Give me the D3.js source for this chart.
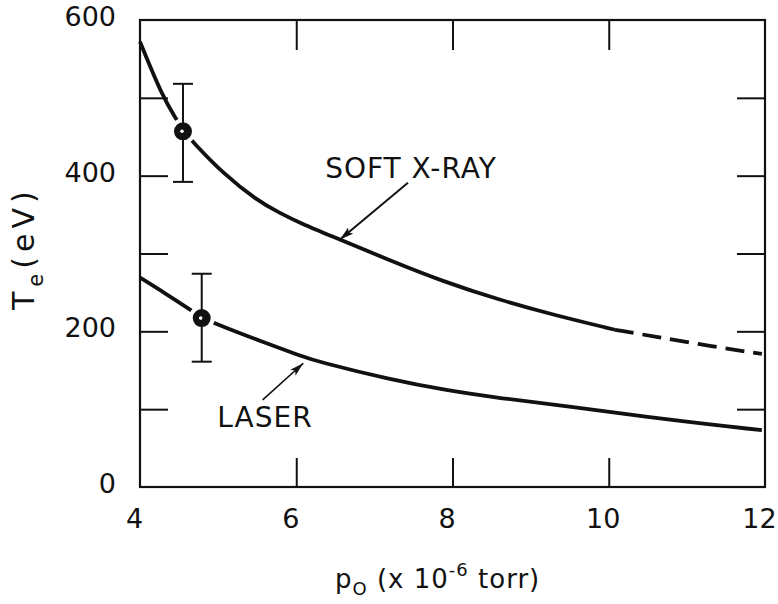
<!DOCTYPE html>
<html>
<head>
<meta charset="utf-8">
<script src="https://cdn.jsdelivr.net/npm/d3@7"></script>
<style>
  body { margin: 0; background: #fff; }
  text { font-family: "DejaVu Sans", sans-serif; fill: #111; }
</style>
</head>
<body>
<svg id="chart" width="778" height="604"></svg>
<script>
// p0 (x 1e-6 torr) vs Te (eV)
var softXraySolid = [
  [4.0, 572], [4.29, 501], [4.47, 472], [4.55, 458], [4.68, 443], [5.06, 403],
  [5.5, 368], [5.79, 352], [6.05, 339], [6.56, 318], [7.2, 291], [7.88, 264],
  [8.61, 240], [9.3, 221], [10.08, 202]
];
var softXrayDashed = [
  [10.08, 202], [10.6, 193], [11.3, 181], [11.96, 171]
];
var laser = [
  [4.0, 269], [4.32, 249], [4.64, 228], [4.79, 218], [4.96, 210], [5.5, 189],
  [6.07, 168], [6.28, 161], [7.2, 138], [7.93, 124], [8.61, 114], [9.47, 104],
  [10.78, 86], [11.96, 73]
];
// measured points: p, Te, low, high
var points = [
  { p: 4.55, te: 457, lo: 392, hi: 518 },
  { p: 4.79, te: 217, lo: 161, hi: 274 }
];
var xTicks = [4, 6, 8, 10, 12];
var yTicks = [0, 100, 200, 300, 400, 500, 600];
var yLabels = [0, 200, 400, 600];

var svg = d3.select("#chart");
var x = d3.scaleLinear().domain([4, 12]).range([140, 765]);
var y = d3.scaleLinear().domain([0, 600]).range([487, 20]);

var ink = "#111";

svg.append("defs").append("marker")
  .attr("id", "head")
  .attr("viewBox", "0 0 14 8")
  .attr("refX", 14).attr("refY", 4)
  .attr("markerWidth", 14).attr("markerHeight", 8)
  .attr("markerUnits", "userSpaceOnUse")
  .attr("orient", "auto")
  .append("path").attr("d", "M0,0 L14,4 L0,8 L3,4 Z").attr("fill", ink);

// axes: inward ticks, labels outside
var axLeft = svg.append("g").attr("transform", "translate(140,0)")
  .call(d3.axisLeft(y).tickValues(yTicks)
    .tickSizeInner(-28).tickSizeOuter(0).tickPadding(24)
    .tickFormat(function (d) { return yLabels.indexOf(d) >= 0 ? d : ""; }));
var axBottom = svg.append("g").attr("transform", "translate(0,487)")
  .call(d3.axisBottom(x).tickValues(xTicks)
    .tickSizeInner(-29).tickSizeOuter(0).tickPadding(22));
var axTop = svg.append("g").attr("transform", "translate(0,20)")
  .call(d3.axisTop(x).tickValues(xTicks.slice(1, -1))
    .tickSizeInner(-30).tickSizeOuter(0).tickFormat(""));
var axRight = svg.append("g").attr("transform", "translate(765,0)")
  .call(d3.axisRight(y).tickValues(yTicks.slice(1, -1))
    .tickSizeInner(-28).tickSizeOuter(0).tickFormat(""));

[axLeft, axBottom, axTop, axRight].forEach(function (g) {
  g.select(".domain").remove();
  g.selectAll("line").attr("stroke", ink).attr("stroke-width", 2);
  g.selectAll("text").attr("font-size", 27).attr("fill", ink)
    .style("font-family", "'DejaVu Sans', sans-serif");
});
axBottom.selectAll("text").attr("dx", -6);
axLeft.selectAll("text").attr("dy", "0.2em");
// ticks at the frame corners are hidden by the frame anyway
axBottom.selectAll(".tick line").filter(function (d) { return d === 4 || d === 12; }).remove();
axLeft.selectAll(".tick line").filter(function (d) { return d === 0 || d === 600; }).remove();

svg.append("rect")
  .attr("x", x(4)).attr("y", y(600))
  .attr("width", x(12) - x(4)).attr("height", y(0) - y(600))
  .attr("fill", "none").attr("stroke", ink).attr("stroke-width", 2.2);

var line = d3.line()
  .x(function (d) { return x(d[0]); })
  .y(function (d) { return y(d[1]); })
  .curve(d3.curveBasis);

svg.append("path").datum(softXraySolid).attr("d", line)
  .attr("fill", "none").attr("stroke", ink).attr("stroke-width", 3.8);
svg.append("path").datum(softXrayDashed).attr("d", line)
  .attr("fill", "none").attr("stroke", ink).attr("stroke-width", 3.8)
  .attr("stroke-dasharray", "19,9");
svg.append("path").datum(laser).attr("d", line)
  .attr("fill", "none").attr("stroke", ink).attr("stroke-width", 3.8);

// error bars and circled points
var pt = svg.selectAll(".pt").data(points).enter().append("g").attr("class", "pt");
pt.append("circle")
  .attr("cx", function (d) { return x(d.p); }).attr("cy", function (d) { return y(d.te); })
  .attr("r", 13).attr("fill", "#fff");
pt.append("line")
  .attr("x1", function (d) { return x(d.p); }).attr("x2", function (d) { return x(d.p); })
  .attr("y1", function (d) { return y(d.lo); }).attr("y2", function (d) { return y(d.hi); })
  .attr("stroke", ink).attr("stroke-width", 2);
pt.selectAll(".cap").data(function (d) { return [[d.p, d.lo], [d.p, d.hi]]; })
  .enter().append("line")
  .attr("x1", function (d) { return x(d[0]) - 10; }).attr("x2", function (d) { return x(d[0]) + 10; })
  .attr("y1", function (d) { return y(d[1]); }).attr("y2", function (d) { return y(d[1]); })
  .attr("stroke", ink).attr("stroke-width", 2);
pt.append("circle")
  .attr("cx", function (d) { return x(d.p); }).attr("cy", function (d) { return y(d.te); })
  .attr("r", 9).attr("fill", ink);
pt.append("circle")
  .attr("cx", function (d) { return x(d.p) - 1; }).attr("cy", function (d) { return y(d.te); })
  .attr("r", 1.8).attr("fill", "#fff");

// labels with arrows
svg.append("text").attr("x", x(6.37)).attr("y", y(397))
  .attr("font-size", 28).attr("letter-spacing", 1).text("SOFT X-RAY");
svg.append("line")
  .attr("x1", x(7.43)).attr("y1", y(391)).attr("x2", x(6.56)).attr("y2", y(318))
  .attr("stroke", ink).attr("stroke-width", 2).attr("marker-end", "url(#head)");

svg.append("text").attr("x", x(4.99)).attr("y", y(77))
  .attr("font-size", 28).attr("letter-spacing", 1).text("LASER");
svg.append("line")
  .attr("x1", x(5.57)).attr("y1", y(112)).attr("x2", x(6.09)).attr("y2", y(159))
  .attr("stroke", ink).attr("stroke-width", 1.6).attr("marker-end", "url(#head)");

// axis titles
var xt = svg.append("text").attr("x", 335).attr("y", 588).attr("font-size", 26)
  .attr("letter-spacing", 1);
xt.append("tspan").text("p");
xt.append("tspan").attr("dy", 7).attr("font-size", 18).text("O");
xt.append("tspan").attr("dy", -7).text(" (x 10");
xt.append("tspan").attr("dy", -12).attr("font-size", 18).text("-6");
xt.append("tspan").attr("dy", 12).text(" torr)");

var yt = svg.append("text")
  .attr("transform", "translate(34,310) rotate(-90)")
  .attr("font-size", 30).attr("letter-spacing", 5);
yt.append("tspan").text("T");
yt.append("tspan").attr("dy", 9).attr("font-size", 21).text("e");
yt.append("tspan").attr("dy", -9).text("(eV)");
</script>
</body>
</html>
